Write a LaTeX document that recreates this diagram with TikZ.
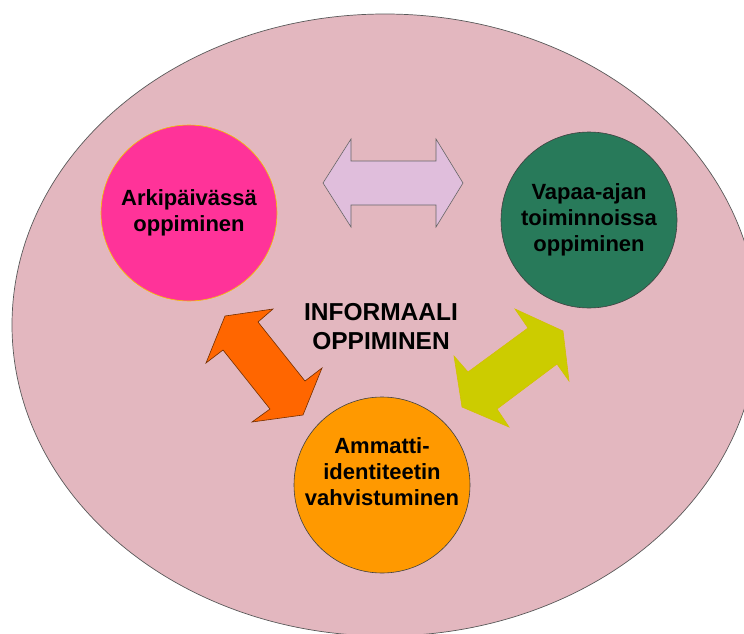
\documentclass[tikz,border=0pt]{standalone}
\usepackage{fontspec}
\setmainfont{Liberation Sans}
\usetikzlibrary{positioning}

\definecolor{bgpink}{HTML}{E3B7BF}
\definecolor{arkpink}{HTML}{FF3399}
\definecolor{arkline}{HTML}{F5C200}
\definecolor{vapgreen}{HTML}{287A5A}
\definecolor{ammorange}{HTML}{FF9900}
\definecolor{lavender}{HTML}{E0BEDC}
\definecolor{arrorange}{HTML}{FF6600}
\definecolor{arryellow}{HTML}{CCCC00}

\begin{document}
\begin{tikzpicture}[x=1pt, y=-1pt,
    every node/.style={font=\bfseries\fontsize{22}{26}\selectfont, align=center},
    blob/.style={circle, draw=black!75, line width=0.6pt, minimum size=176pt, inner sep=0pt}]
            \useasboundingbox (0,0) rectangle (744,634);
            \clip (0,0) rectangle (744,634);

            % big background ellipse
            \filldraw[fill=bgpink, draw=black!65, line width=0.7pt] (385,325) ellipse [x radius=373, y radius=311];

            % block arrows
            \filldraw[fill=lavender, draw=black!60, line width=0.6pt] (323,183) -- (351,139) -- (351,161) -- (436,161) -- (436,139) -- (463,183) -- (436,227) -- (436,205) -- (351,205) -- (351,227) -- cycle;
            \filldraw[fill=arrorange, draw=black!55!arrorange, line width=0.6pt] (225,316) -- (273,309) -- (258,322) -- (305,381) -- (322,368) -- (303,415) -- (252,422) -- (270,409) -- (223,350) -- (206,363) -- cycle;
            \filldraw[fill=arryellow, draw=arryellow!85!orange, line width=0.6pt] (462,407) -- (454,356) -- (468,372) -- (528,328) -- (515,309) -- (563,331) -- (569,381) -- (557,364) -- (497,409) -- (509,427) -- cycle;

            \node[blob, fill=arkpink, draw=arkline] (ark) at (189,213) {Arkipäivässä\\oppiminen};
            \node[blob, fill=vapgreen] (vap) at (589,220) {Vapaa-ajan\\toiminnoissa\\oppiminen};
            \node[blob, fill=ammorange] (amm) at (382,485) {};
            \node (ammtxt) at ([yshift=13pt]amm.center) {Ammatti-\\identiteetin\\vahvistuminen};

            \node[font=\bfseries\fontsize{24.5}{29}\selectfont] (info) at (381,327) {INFORMAALI\\OPPIMINEN};
        \end{tikzpicture}
\end{document}
